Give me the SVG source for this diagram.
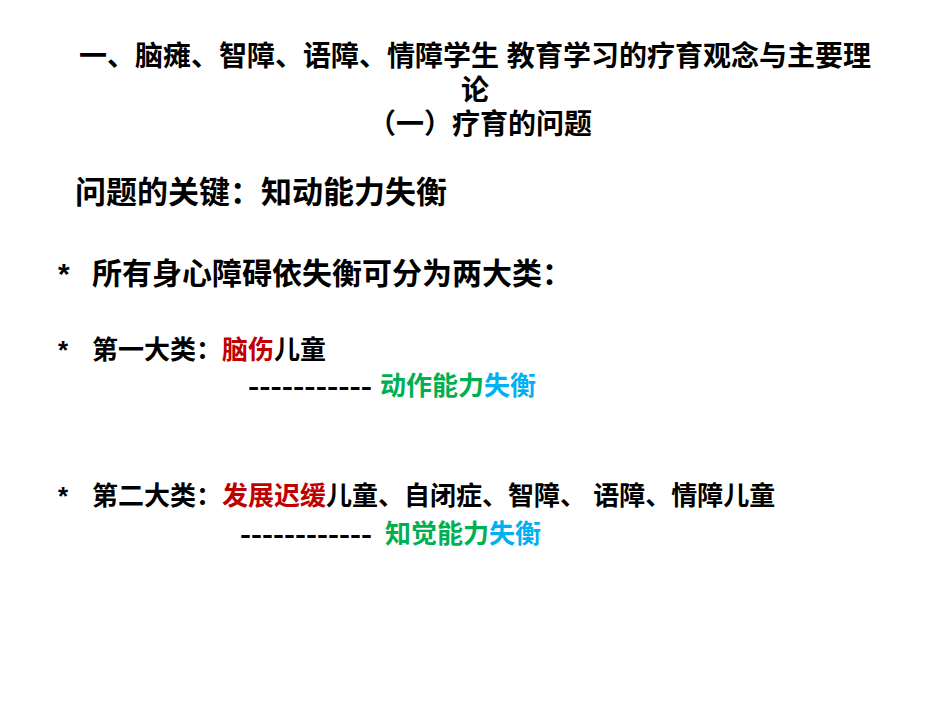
<svg xmlns="http://www.w3.org/2000/svg" width="950" height="713" viewBox="0 0 950 713">
<style>
text{font-family:"Liberation Sans","Noto Sans CJK SC",sans-serif;font-weight:bold;fill:#000}
.t{font-size:28px}
.k{font-size:31px}
.a{font-size:30px}
.b{font-size:26px}
.r{fill:#C00000}.g{fill:#00B050}.c{fill:#00B0F0}
</style>
<rect width="950" height="713" fill="#fff"/>
<g id="title">
<text class="t" x="475" y="66" text-anchor="middle">一、脑瘫、智障、语障、情障学生 教育学习的疗育观念与主要理</text>
<text class="t" x="475" y="100" text-anchor="middle">论</text>
<text class="t" x="480" y="134" text-anchor="middle">（一）疗育的问题</text>
</g>
<g id="key"><text class="k" x="75" y="203">问题的关键：知动能力失衡</text></g>
<g id="all"><text class="a" x="58" y="284">*</text><text class="a" x="92" y="284">所有身心障碍依失衡可分为两大类：</text></g>
<g id="cat1">
<text class="b" x="58" y="359">*</text>
<text class="b" x="92" y="359">第一大类：<tspan class="r">脑伤</tspan>儿童</text>
<text class="b" x="248" y="395" textLength="124" lengthAdjust="spacingAndGlyphs">-----------</text>
<text class="b" x="380" y="395"><tspan class="g">动作能力</tspan><tspan class="c">失衡</tspan></text>
</g>
<g id="cat2">
<text class="b" x="58" y="505">*</text>
<text class="b" x="92" y="505">第二大类：<tspan class="r">发展迟缓</tspan>儿童、自闭症、智障、 语障、情障儿童</text>
<text class="b" x="240" y="543" textLength="132" lengthAdjust="spacingAndGlyphs">------------</text>
<text class="b" x="385" y="543"><tspan class="g">知觉能力</tspan><tspan class="c">失衡</tspan></text>
</g>
<g id="connectors"></g>
</svg>
